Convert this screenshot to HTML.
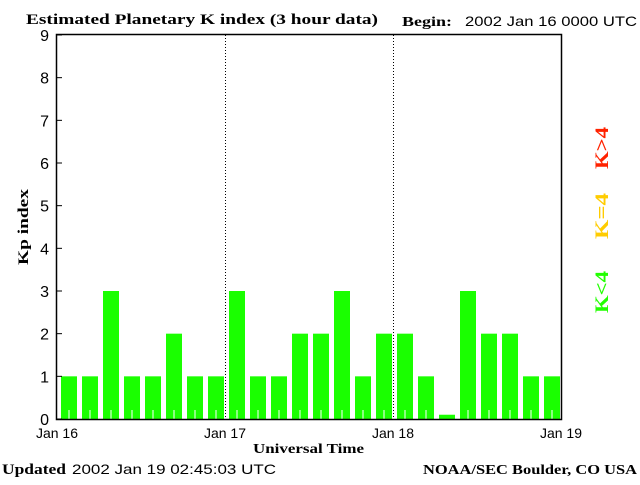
<!DOCTYPE html>
<html><head><meta charset="utf-8"><style>
body{margin:0;background:#fff;}
svg text{font-family:"Liberation Sans",sans-serif;}
.s{font-family:"Liberation Serif",serif;font-weight:bold;}
</style></head><body>
<svg width="640" height="480" xmlns="http://www.w3.org/2000/svg">
<rect width="640" height="480" fill="#fff"/>
<text class="s" x="26" y="24" font-size="15" textLength="352" lengthAdjust="spacingAndGlyphs">Estimated Planetary K index (3 hour data)</text>
<text class="s" x="402" y="26" font-size="14" textLength="50" lengthAdjust="spacingAndGlyphs">Begin:</text>
<text x="465" y="26" font-size="14" textLength="172" lengthAdjust="spacingAndGlyphs">2002 Jan 16 0000 UTC</text>
<g id="bars"></g>
<g id="axes"></g>
<text class="s" x="28" y="227" font-size="15" textLength="76" lengthAdjust="spacingAndGlyphs" transform="rotate(-90 28 227)" text-anchor="middle">Kp index</text>
<text class="s" x="253" y="453" font-size="14" textLength="111" lengthAdjust="spacingAndGlyphs">Universal Time</text>
<text class="s" x="2" y="474" font-size="15" textLength="64" lengthAdjust="spacingAndGlyphs">Updated</text>
<text x="72" y="474" font-size="14" textLength="204" lengthAdjust="spacingAndGlyphs">2002 Jan 19 02:45:03 UTC</text>
<text class="s" x="423" y="474" font-size="14" textLength="214" lengthAdjust="spacingAndGlyphs">NOAA/SEC Boulder, CO USA</text>
<text class="s" x="608" y="148" font-size="19" fill="#ff2200" text-anchor="middle" textLength="42" lengthAdjust="spacingAndGlyphs" transform="rotate(-90 608 148)">K&gt;4</text>
<text class="s" x="608" y="216" font-size="19" fill="#ffcc00" text-anchor="middle" textLength="46" lengthAdjust="spacingAndGlyphs" transform="rotate(-90 608 216)">K=4</text>
<text class="s" x="608" y="292" font-size="19" fill="#22ff00" text-anchor="middle" textLength="42" lengthAdjust="spacingAndGlyphs" transform="rotate(-90 608 292)">K&lt;4</text>
</svg>
<script>
const values=[1,1,3,1,1,2,1,1, 3,1,1,2,2,3,1,2, 2,1,0.1,3,2,2,1,1];
const yTicks=[0,1,2,3,4,5,6,7,8,9];
const dayLabels=["Jan 16","Jan 17","Jan 18","Jan 19"];
const NS="http://www.w3.org/2000/svg";
const L=57,R=561,T=35,B=419;
const slot=(R-L)/values.length;
const x=i=>L+i*slot;
const y=v=>B-(B-T)*v/9;
function mk(tag,a,p){const e=document.createElementNS(NS,tag);for(const k in a)e.setAttribute(k,a[k]);p.appendChild(e);return e;}
const bars=document.getElementById('bars'),axes=document.getElementById('axes');
values.forEach((v,i)=>{
 const c=v>4?'#ff2200':(v===4?'#ffcc00':'#1aff00');
 const r=mk('rect',{x:x(i)+4,y:y(v),width:16,height:B-y(v),fill:c},bars);
 
 
 if(v>=0.5){const t=mk('line',{x1:x(i)+12,x2:x(i)+12,y1:B-9,y2:B,stroke:'#fff'},bars);
 
 }
});
mk('rect',{x:L-0.5,y:T-0.5,width:R-L+1,height:B-T+1,fill:'none',stroke:'#000','stroke-width':1.5},axes);
for(let d=1;d<dayLabels.length-1;d++){
 const xx=x(d*8)+0.5;
 const l=mk('line',{x1:xx,x2:xx,y1:T,y2:B,stroke:'#000','stroke-dasharray':'1,2'},axes);
 
 
}
yTicks.forEach(t=>{
 mk('line',{x1:L,x2:L+5,y1:y(t),y2:y(t),stroke:'#000'},axes);
 const tx=mk('text',{x:49,y:y(t)+6,'font-size':16,'text-anchor':'end'},axes);
 tx.textContent=t;
 
 
});
dayLabels.forEach((d,i)=>{
 const tx=mk('text',{x:x(i*8),y:438,'font-size':14,'text-anchor':'middle'},axes);
 tx.textContent=d;
 
 
});
</script>
</body></html>
